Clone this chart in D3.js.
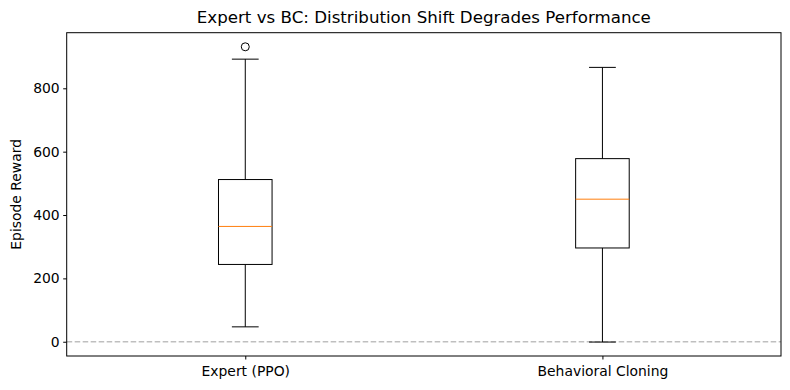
<!DOCTYPE html>
<html>
<head>
<meta charset="utf-8">
<script src="https://cdn.jsdelivr.net/npm/d3@7"></script>
<style>
  html, body { margin: 0; padding: 0; background: #fff; }
  svg text { font-family: "DejaVu Sans", sans-serif; fill: #000; }
</style>
</head>
<body>
<div id="chart"></div>
<script>
// box statistics
const categories = ["Expert (PPO)", "Behavioral Cloning"]
const whiskerLow = [47, -1]
const q1 = [244, 296]
const median = [364, 450]
const q3 = [512, 578]
const whiskerHigh = [892, 866]
const outliers = [[931], []]
const yTicks = [0, 200, 400, 600, 800]

const width = 790, height = 390
const margin = {top: 32.7, right: 9, bottom: 34, left: 66.7}

const svg = d3.select("#chart")
  .append("svg")
    .attr("width", width)
    .attr("height", height)

const x = d3.scaleLinear()
  .domain([0.5, 2.5])
  .range([margin.left, width - margin.right])

const y = d3.scaleLinear()
  .domain([-45, 975.5])
  .range([height - margin.bottom, margin.top])

const boxW = x(1.075) - x(0.925)
const capW = x(1.0375) - x(0.9625)

// reference line at zero
svg.append("line")
  .attr("x1", x(0.5)).attr("x2", x(2.5))
  .attr("y1", y(0)).attr("y2", y(0))
  .attr("stroke", "#808080")
  .attr("stroke-opacity", 0.5)
  .attr("stroke-width", 1.5)
  .attr("stroke-dasharray", "5.5,2.5")

const g = svg.append("g")
categories.forEach((c, i) => {
  const cx = x(i + 1)
  const box = g.append("g")
  box.append("line")
    .attr("x1", cx).attr("x2", cx)
    .attr("y1", y(q1[i])).attr("y2", y(whiskerLow[i]))
    .attr("stroke", "#000")
  box.append("line")
    .attr("x1", cx).attr("x2", cx)
    .attr("y1", y(q3[i])).attr("y2", y(whiskerHigh[i]))
    .attr("stroke", "#000")
  ;[whiskerLow[i], whiskerHigh[i]].forEach(v => {
    box.append("line")
      .attr("x1", cx - capW / 2).attr("x2", cx + capW / 2)
      .attr("y1", y(v)).attr("y2", y(v))
      .attr("stroke", "#000")
  })
  box.append("rect")
    .attr("x", cx - boxW / 2)
    .attr("y", y(q3[i]))
    .attr("width", boxW)
    .attr("height", y(q1[i]) - y(q3[i]))
    .attr("fill", "none")
    .attr("stroke", "#000")
  box.append("line")
    .attr("x1", cx - boxW / 2).attr("x2", cx + boxW / 2)
    .attr("y1", y(median[i])).attr("y2", y(median[i]))
    .attr("stroke", "#ff7f0e")
  outliers[i].forEach(v => {
    box.append("circle")
      .attr("cx", cx).attr("cy", y(v))
      .attr("r", 4)
      .attr("fill", "none")
      .attr("stroke", "#000")
  })
})

// axes
const xAxis = svg.append("g")
  .attr("transform", `translate(0,${height - margin.bottom})`)
  .call(d3.axisBottom(x).tickValues([1, 2]).tickFormat(d => categories[d - 1]).tickSize(3.5).tickPadding(3.5))
xAxis.select(".domain").remove()
xAxis.selectAll("text").attr("font-size", 13.9).attr("dy", "0.95em")

const yAxis = svg.append("g")
  .attr("transform", `translate(${margin.left},0)`)
  .call(d3.axisLeft(y).tickValues(yTicks).tickSize(3.5).tickPadding(3.5))
yAxis.select(".domain").remove()
yAxis.selectAll("text").attr("font-size", 13.9)

// frame
svg.append("rect")
  .attr("x", margin.left)
  .attr("y", margin.top)
  .attr("width", width - margin.right - margin.left)
  .attr("height", height - margin.bottom - margin.top)
  .attr("fill", "none")
  .attr("stroke", "#000")
  .attr("stroke-width", 1)

svg.append("text")
  .attr("x", (margin.left + width - margin.right) / 2)
  .attr("y", 23)
  .attr("text-anchor", "middle")
  .attr("font-size", 16.67)
  .text("Expert vs BC: Distribution Shift Degrades Performance")

svg.append("text")
  .attr("transform", `translate(21,${(margin.top + height - margin.bottom) / 2}) rotate(-90)`)
  .attr("text-anchor", "middle")
  .attr("font-size", 13.9)
  .text("Episode Reward")
</script>
</body>
</html>
